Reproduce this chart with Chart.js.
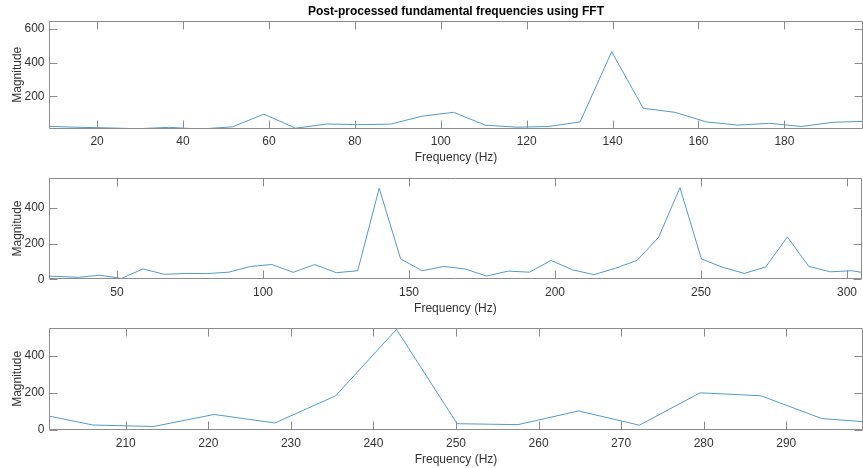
<!DOCTYPE html>
<html><head><meta charset="utf-8">
<script src="https://cdn.jsdelivr.net/npm/chart.js@4.4.1/dist/chart.umd.min.js"></script>
<style>
html,body{margin:0;padding:0;background:#fff;width:863px;height:468px;overflow:hidden}
canvas{position:absolute;left:0}
</style></head><body>
<canvas id="c1" width="863" height="166" style="top:0px"></canvas>
<canvas id="c2" width="863" height="150" style="top:166px"></canvas>
<canvas id="c3" width="863" height="152" style="top:316px"></canvas>
<script>
const titleText = 'Post-processed fundamental frequencies using FFT';
const xLabel = 'Frequency (Hz)';
const yLabel = 'Magnitude';

// Subplot 1
const freq1 = [7.36, 14.71, 22.07, 29.43, 36.79, 44.14, 51.50, 58.86, 66.21, 73.57, 80.93, 88.29, 95.64, 103.00,
               110.36, 117.71, 125.07, 132.43, 139.79, 147.14, 154.50, 161.86, 169.21, 176.57, 183.93, 191.29, 198.64, 206.00];
const mag1  = [23, 17, 13, 8, 16, 6, 19, 94, 11, 36, 32, 35, 82, 105,
               29, 17, 21, 48, 464, 129, 105, 48, 29, 40, 21, 46, 52, 55];
const xRange1 = [8.8, 198.3];
const yRange1 = [8, 647];
const xTicks1 = [20, 40, 60, 80, 100, 120, 140, 160, 180];
const yTicks1 = [200, 400, 600];

// Subplot 2
const freq2 = [22.07, 29.43, 36.79, 44.14, 51.50, 58.86, 66.21, 73.57, 80.93, 88.29, 95.64, 103.00, 110.36, 117.71,
               125.07, 132.43, 139.79, 147.14, 154.50, 161.86, 169.21, 176.57, 183.93, 191.29, 198.64, 206.00, 213.36,
               220.71, 228.07, 235.43, 242.79, 250.14, 257.50, 264.86, 272.21, 279.57, 286.93, 294.29, 301.64, 309.00];
const mag2  = [21, 16, 11, 23, 5, 58, 28, 33, 32, 40, 72, 83, 39, 83,
               37, 48, 511, 114, 48, 72, 58, 18, 46, 40, 106, 53, 26,
               62, 106, 234, 514, 114, 67, 33, 70, 238, 72, 42, 48, 28];
const xRange2 = [26.7, 305.1];
const yRange2 = [0, 570];
const xTicks2 = [50, 100, 150, 200, 250, 300];
const yTicks2 = [0, 200, 400];

// Subplot 3
const freq3 = [198.64, 206.00, 213.36, 220.71, 228.07, 235.43, 242.79, 250.14, 257.50, 264.86, 272.21, 279.57, 286.93, 294.29, 301.64];
const mag3  = [94, 27, 19, 84, 38, 185, 544, 34, 29, 103, 26, 201, 185, 62, 37];
const xRange3 = [200.7, 299.3];
const yRange3 = [0, 553];
const xTicks3 = [210, 220, 230, 240, 250, 260, 270, 280, 290];
const yTicks3 = [0, 200, 400];

const FONT = 'Liberation Sans, Arial, Helvetica, sans-serif';
const lineColor = 'rgb(80,155,205)';
const textColor = '#333333';
const boxColor = '#8c8c8c';

const boxPlugin = {
  id: 'matlabBox',
  afterDatasetsDraw(chart) {
    const {ctx, chartArea: a, scales: {x, y}} = chart;
    const L = Math.round(a.left) + 0.5, R = Math.round(a.right) - 0.5;
    const T = Math.round(a.top) + 0.5, B = Math.round(a.bottom) - 0.5;
    const tl = 8;
    ctx.save();
    ctx.strokeStyle = boxColor;
    ctx.lineWidth = 1;
    ctx.beginPath();
    ctx.rect(L, T, R - L, B - T);
    x.ticks.forEach(t => {
      const px = Math.round(x.getPixelForValue(t.value)) + 0.5;
      ctx.moveTo(px, B); ctx.lineTo(px, B - tl);
      ctx.moveTo(px, T); ctx.lineTo(px, T + tl);
    });
    y.ticks.forEach(t => {
      const py = Math.round(y.getPixelForValue(t.value)) + 0.5;
      ctx.moveTo(L, py); ctx.lineTo(L + tl, py);
      ctx.moveTo(R, py); ctx.lineTo(R - tl, py);
    });
    ctx.stroke();
    ctx.restore();
  }
};

function makeChart(id, freq, mag, xr, yr, xt, yt, o) {
  return new Chart(document.getElementById(id), {
    type: 'line',
    data: {
      datasets: [{
        data: freq.map((f, i) => ({x: f, y: mag[i]})),
        borderColor: lineColor, borderWidth: 1, pointRadius: 0, tension: 0, fill: false
      }]
    },
    options: {
      responsive: false, animation: false, devicePixelRatio: 1,
      layout: {padding: {top: o.top, left: 0, right: 0, bottom: 0}},
      plugins: {
        legend: {display: false}, tooltip: {enabled: false},
        title: o.title ? {
          display: true, text: titleText, fullSize: false, color: '#000',
          font: {family: FONT, size: 12, weight: 'bold'}, padding: {top: 4, bottom: 2.4}
        } : {display: false}
      },
      scales: {
        x: {
          type: 'linear', min: xr[0], max: xr[1],
          grid: {display: false, drawTicks: false}, border: {display: false},
          afterBuildTicks: s => { s.ticks = xt.map(v => ({value: v})); },
          afterFit: s => { s.height = o.xh; },
          ticks: {padding: 6, color: textColor, font: {family: FONT, size: 12}, maxRotation: 0, autoSkip: false},
          title: {display: true, text: xLabel, color: textColor, font: {family: FONT, size: 12}, padding: {top: 0, bottom: o.xpb}}
        },
        y: {
          type: 'linear', min: yr[0], max: yr[1],
          grid: {display: false, drawTicks: false}, border: {display: false},
          afterBuildTicks: s => { s.ticks = yt.map(v => ({value: v})); },
          afterFit: s => { s.width = 49; },
          ticks: {padding: 4.5, color: textColor, font: {family: FONT, size: 12}, autoSkip: false},
          title: {display: true, text: yLabel, color: textColor, font: {family: FONT, size: 12}, padding: {top: 10.3, bottom: 0}}
        }
      }
    },
    plugins: [boxPlugin]
  });
}

makeChart('c1', freq1, mag1, xRange1, yRange1, xTicks1, yTicks1, {title: true, top: 0, xh: 37.3, xpb: 0.8});
makeChart('c2', freq2, mag2, xRange2, yRange2, xTicks2, yTicks2, {title: false, top: 6, xh: 36.7, xpb: 0.2});
makeChart('c3', freq3, mag3, xRange3, yRange3, xTicks3, yTicks3, {title: false, top: 6.7, xh: 38, xpb: 1.5});
</script>
</body></html>
